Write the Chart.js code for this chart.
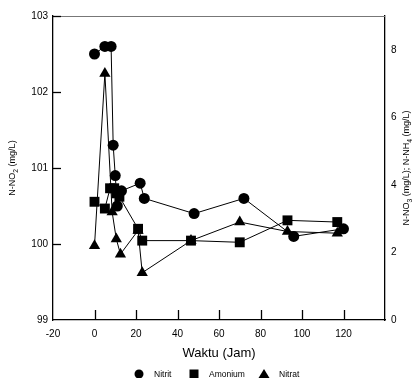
<!DOCTYPE html>
<html>
<head>
<meta charset="utf-8">
<script src="https://cdn.jsdelivr.net/npm/chart.js@4"></script>
<style>
  html, body { margin: 0; padding: 0; background: #fff; }
  #wrap { width: 413px; height: 378px; }
</style>
</head>
<body>
<div id="wrap"><canvas id="myChart" width="413" height="378"></canvas></div>
<script>
// waktu (jam) dan nilai tiap seri
const nitritJam = [0, 5, 8, 9, 10, 11, 13, 22, 24, 48, 72, 96, 120];
const nitritVal = [102.5, 102.6, 102.6, 101.3, 100.9, 100.5, 100.7, 100.8, 100.6, 100.4, 100.6, 100.1, 100.2];

const amoniumJam = [0, 5, 7.5, 9.5, 10.5, 12, 21, 23, 46.5, 70, 93, 117];
const amoniumVal = [3.5, 3.3, 3.9, 3.9, 3.75, 3.65, 2.7, 2.35, 2.35, 2.3, 2.95, 2.9];

const nitratJam = [0, 5, 8.5, 10.5, 12.5, 21, 23, 46.5, 70, 93, 117];
const nitratVal = [2.2, 7.3, 3.2, 2.4, 1.95, 2.65, 1.4, 2.35, 2.9, 2.62, 2.57];

const xTicks = [-20, 0, 20, 40, 60, 80, 100, 120];
const leftTicks = [99, 100, 101, 102, 103];
const rightTicks = [0, 2, 4, 6, 8];

const legendNames = ["Nitrit", "Amonium", "Nitrat"];

const toPoints = (xs, ys) => xs.map((x, i) => ({ x: x, y: ys[i] }));
const FONT = "'Liberation Sans', Arial, sans-serif";

// teks tegak dengan subskrip
function drawSubText(c, parts, cx, cy, size) {
  const subSize = size * 0.75;
  let w = 0;
  parts.forEach(p => {
    c.font = (p.sub ? subSize : size) + "px " + FONT;
    p.w = c.measureText(p.t).width;
    w += p.w;
  });
  c.save();
  c.translate(cx, cy);
  c.rotate(-Math.PI / 2);
  c.textBaseline = "middle";
  c.textAlign = "left";
  let x = -w / 2;
  parts.forEach(p => {
    c.font = (p.sub ? subSize : size) + "px " + FONT;
    c.fillText(p.t, x, p.sub ? size * 0.3 : 0);
    x += p.w;
  });
  c.restore();
}

// garis tepi atas, tick ke dalam, judul sumbu y, dan legenda di bawah
const extras = {
  id: "extras",
  afterDraw(chart) {
    const c = chart.ctx;
    const a = chart.chartArea;
    const sx = chart.scales.x, sl = chart.scales.yL;
    c.save();
    c.strokeStyle = "#777";
    c.lineWidth = 1.2;
    c.beginPath();
    c.moveTo(a.left, a.top + 0.5);
    c.lineTo(a.right, a.top + 0.5);
    c.stroke();

    c.strokeStyle = "#000";
    c.lineWidth = 1.3;
    xTicks.forEach(v => {
      if (v === -20) return;
      const px = Math.round(sx.getPixelForValue(v)) + 0.5;
      c.beginPath();
      c.moveTo(px, a.bottom);
      c.lineTo(px, a.bottom - 10);
      c.stroke();
    });
    leftTicks.forEach(v => {
      if (v === 99) return;
      const py = Math.round(sl.getPixelForValue(v)) + 0.5;
      c.beginPath();
      c.moveTo(a.left, py);
      c.lineTo(a.left + 8, py);
      c.stroke();
    });

    c.fillStyle = "#000";
    const midY = (a.top + a.bottom) / 2;
    drawSubText(c, [{ t: "N-NO" }, { t: "2", sub: true }, { t: " (mg/L)" }], 13, midY, 9);
    drawSubText(c, [{ t: "N-NO" }, { t: "3", sub: true }, { t: " (mg/L); N-NH" }, { t: "4", sub: true }, { t: " (mg/L)" }], 407, midY, 9);

    // legenda
    const y = 374;
    const items = [
      { x: 139, style: "circle" },
      { x: 194, style: "rect" },
      { x: 264, style: "triangle" }
    ];
    c.font = "8.5px " + FONT;
    c.textBaseline = "middle";
    c.textAlign = "left";
    items.forEach((it, i) => {
      if (it.style === "circle") {
        c.beginPath(); c.arc(it.x, y, 4.5, 0, Math.PI * 2); c.fill();
      } else if (it.style === "rect") {
        c.fillRect(it.x - 4.5, y - 4.5, 9, 9);
      } else {
        c.beginPath(); c.moveTo(it.x, y - 5); c.lineTo(it.x + 5.5, y + 4); c.lineTo(it.x - 5.5, y + 4); c.closePath(); c.fill();
      }
      c.fillText(legendNames[i], it.x + 15, y + 1);
    });
    c.restore();
  }
};

const ctx = document.getElementById("myChart").getContext("2d");

const common = {
  showLine: true,
  borderColor: "#000",
  backgroundColor: "#000",
  pointBackgroundColor: "#000",
  pointBorderColor: "#000",
  borderWidth: 1,
  pointBorderWidth: 0,
  tension: 0
};

const myChart = new Chart(ctx, {
  type: "scatter",
  data: {
    datasets: [
      Object.assign({ label: "Nitrit", data: toPoints(nitritJam, nitritVal), yAxisID: "yL", pointStyle: "circle", pointRadius: 5.5 }, common),
      Object.assign({ label: "Amonium", data: toPoints(amoniumJam, amoniumVal), yAxisID: "yR", pointStyle: "rect", pointRadius: 7 }, common),
      Object.assign({ label: "Nitrat", data: toPoints(nitratJam, nitratVal), yAxisID: "yR", pointStyle: "triangle", pointRadius: 6.5 }, common)
    ]
  },
  options: {
    responsive: false,
    animation: false,
    events: [],
    layout: { padding: { top: 16, left: 0, right: 0, bottom: 0 } },
    plugins: { legend: { display: false }, tooltip: { enabled: false } },
    scales: {
      x: {
        type: "linear",
        min: -20, max: 140,
        afterBuildTicks: s => { s.ticks = xTicks.map(v => ({ value: v })); },
        afterFit: s => { s.height = 58; },
        grid: { display: false, drawTicks: false },
        border: { display: true, color: "#000", width: 1.3 },
        ticks: { color: "#000", padding: 8, font: { family: FONT, size: 10 }, maxRotation: 0 },
        title: { display: true, text: "Waktu (Jam)", color: "#000", font: { family: FONT, size: 13 }, padding: { top: 4, bottom: 17 } }
      },
      yL: {
        position: "left",
        min: 99, max: 103,
        afterBuildTicks: s => { s.ticks = leftTicks.map(v => ({ value: v })); },
        afterFit: s => { s.width = 53; },
        grid: { display: false, drawTicks: false },
        border: { display: true, color: "#000", width: 1.3 },
        ticks: { color: "#000", padding: 5, font: { family: FONT, size: 10 } }
      },
      yR: {
        position: "right",
        min: 0, max: 9,
        afterBuildTicks: s => { s.ticks = rightTicks.map(v => ({ value: v })); },
        afterFit: s => { s.width = 28; },
        grid: { display: false, drawTicks: false },
        border: { display: true, color: "#000", width: 1.3 },
        ticks: { color: "#000", padding: 6, font: { family: FONT, size: 10 } }
      }
    }
  },
  plugins: [extras]
});
</script>
</body>
</html>
